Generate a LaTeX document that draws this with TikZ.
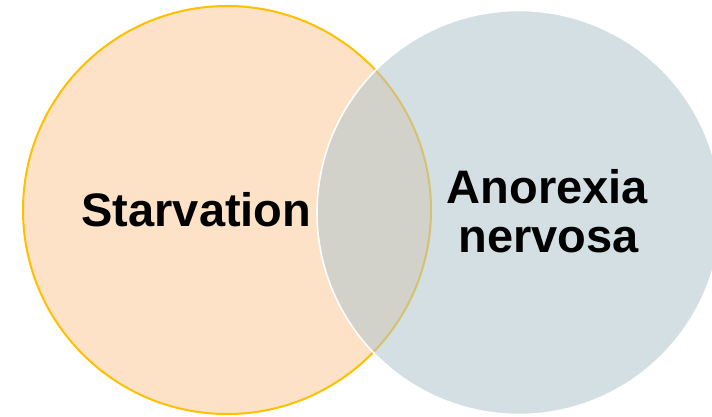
\documentclass[tikz,border=0pt]{standalone}
\usepackage{fontspec}
\setmainfont{Liberation Sans}
\definecolor{leftfill}{RGB}{253,226,200}
\definecolor{leftline}{RGB}{255,192,0}
\definecolor{rightfill}{RGB}{177,197,204}
\tikzset{
  setlabel/.style={font=\fontsize{47}{49}\selectfont\bfseries, text=black, inner sep=0pt, anchor=base},
}
\begin{document}
\begin{tikzpicture}[x=1pt,y=-1pt]
\useasboundingbox (0,0) rectangle (712,416);
\fill[white] (0,0) rectangle (712,416);
\draw[leftline, line width=2pt, fill=leftfill] (227,210) circle[radius=204];
\draw[white, line width=1.6pt, fill=rightfill, fill opacity=0.55] (519,212.5) circle[radius=202];
\node[setlabel] (starv) at (196.5,226) {Starvation};
\node[setlabel] (anor) at (547.5,203) {Anorexia};
\node[setlabel] (nerv) at (548.5,252) {nervosa};
\end{tikzpicture}
\end{document}
